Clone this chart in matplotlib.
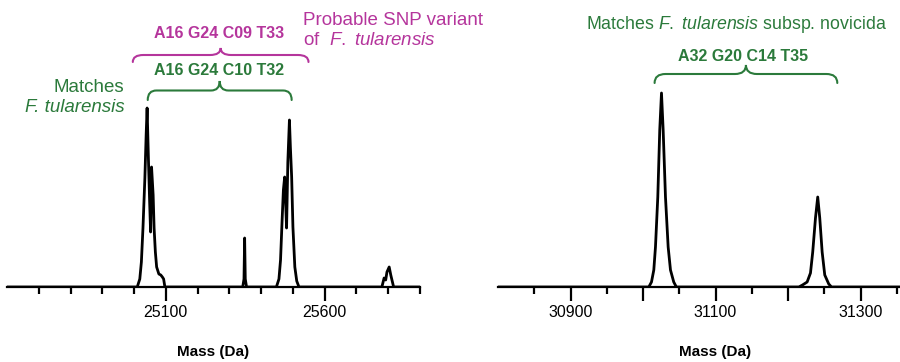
import numpy as np
import matplotlib
matplotlib.use("Agg")
import matplotlib.pyplot as plt
from matplotlib.path import Path
from matplotlib.patches import PathPatch
from matplotlib.ticker import FixedLocator, FuncFormatter

plt.rcParams["font.family"] = ["Liberation Sans", "DejaVu Sans"]
plt.rcParams["mathtext.fontset"] = "custom"
plt.rcParams["mathtext.rm"] = "Liberation Sans"
plt.rcParams["mathtext.it"] = "Liberation Sans:italic"
plt.rcParams["mathtext.bf"] = "Liberation Sans:bold"

# trace (mass in Da, intensity arb.)
left_mass = [24600, 25010, 25018, 25023, 25028, 25034, 25038, 25041, 25045, 25049, 25052,
             25055, 25060, 25063, 25067, 25071, 25078, 25084, 25089, 25093, 25097,
             25342, 25346, 25348, 25350, 25354,
             25448, 25456, 25461, 25466, 25470, 25474, 25477, 25480, 25484, 25489, 25492,
             25496, 25500, 25506, 25512, 25519,
             25780, 25787, 25792, 25796, 25803, 25808, 25817, 25900]
left_int = [0, 0, 8, 25, 59, 109, 152, 179, 130, 85, 55,
            120, 92, 59, 35, 20, 13, 12, 10, 8, 0,
            0, 8, 49, 8, 0,
            0, 8, 27, 67, 97, 110, 85, 59, 125, 167, 140,
            110, 60, 20, 6, 0,
            0, 9, 7, 15, 20, 12, 0, 0]

# trace
right_mass = [30800, 31008.0, 31011.7, 31014.9, 31017.2, 31020.4, 31023.1, 31025.5, 31027.8,
              31031.0, 31034.7, 31037.9, 31042.4, 31046.0, 31215.0, 31220.0, 31226.4,
              31231.0, 31234.1, 31237.9, 31241.0, 31243.8, 31247.1, 31250.7, 31256.2,
              31260.0, 31400]
right_int = [0, 0, 5, 17, 40, 90, 157, 194, 157,
             90, 40, 17, 5, 0, 0, 2, 5,
             14, 35, 69, 90, 69, 35, 12, 3,
             0, 0]

left_major = [25100, 25600]
right_major = [30900, 31000, 31100, 31200, 31300]
right_labels = [30900, 31100, 31300]

green = "#2b7a3b"
magenta = "#b5359c"


def brace(ax, x0, x1, y0, y1, color):
    xc = (x0 + x1) / 2
    ym = y0 + 0.5 * (y1 - y0)
    r = 0.06 * (x1 - x0)
    verts = [(x0, y0), (x0, ym), (x0 + r, ym),
             (xc - r, ym),
             (xc, ym), (xc, y1),
             (xc, ym), (xc + r, ym),
             (x1 - r, ym),
             (x1, ym), (x1, y0)]
    codes = [Path.MOVETO, Path.CURVE3, Path.CURVE3,
             Path.LINETO,
             Path.CURVE3, Path.CURVE3,
             Path.CURVE3, Path.CURVE3,
             Path.LINETO,
             Path.CURVE3, Path.CURVE3]
    ax.add_patch(PathPatch(Path(verts, codes), fill=False, edgecolor=color,
                           lw=1.5, clip_on=False, capstyle="round"))


def style(ax, xlim, major, minor):
    ax.set_xlim(*xlim)
    ax.set_ylim(0, 200)
    for s in ["left", "right", "top"]:
        ax.spines[s].set_visible(False)
    ax.spines["bottom"].set_linewidth(1.6)
    ax.set_yticks([])
    ax.xaxis.set_major_locator(FixedLocator(major))
    ax.xaxis.set_minor_locator(FixedLocator(minor))
    ax.tick_params(axis="x", which="major", direction="out", length=10, width=1.6,
                   labelsize=11.5, pad=3)
    ax.tick_params(axis="x", which="minor", direction="out", length=5, width=1.6)
    ax.set_xlabel("Mass (Da)", fontsize=11, fontweight="bold", labelpad=18)
    ax.patch.set_visible(False)


fig = plt.figure(figsize=(9, 3.62), dpi=100)
ax1 = fig.add_axes([7 / 900, 75 / 362, 413 / 900, 200 / 362])
ax2 = fig.add_axes([498 / 900, 75 / 362, 435 / 900, 200 / 362])

ax1.plot(left_mass, left_int, color="black", lw=2, solid_joinstyle="round")
style(ax1, (24600, 25900), left_major,
      [m for m in np.arange(24700, 25901, 100) if m not in left_major])

ax2.plot(right_mass, right_int, color="black", lw=2, solid_joinstyle="round")
style(ax2, (30800, 31400), right_major, np.arange(30850, 31351, 100))
ax2.xaxis.set_major_formatter(
    FuncFormatter(lambda v, p: f"{v:.0f}" if round(v) in right_labels else ""))

# left annotations
ax1.text(24970, 195, "Matches", color=green, fontsize=13.5, ha="right", va="baseline")
ax1.text(24970, 175, "F. tularensis", color=green, fontsize=13.5, style="italic",
         ha="right", va="baseline")
ax1.text(25533, 262, "Probable SNP variant", color=magenta, fontsize=13.5,
         va="baseline")
ax1.text(25533, 242, r"of  $\it{F.}$ $\it{tularensis}$", color=magenta,
         fontsize=13.5, va="baseline")
ax1.text(25266, 249, "A16 G24 C09 T33", color=magenta, fontsize=11.5,
         fontweight="bold", ha="center", va="baseline")
brace(ax1, 24996, 25549, 225, 239, magenta)
ax1.text(25266, 212, "A16 G24 C10 T32", color=green, fontsize=11.5,
         fontweight="bold", ha="center", va="baseline")
brace(ax1, 25043, 25496, 187, 206, green)

# right annotations
ax2.text(30922, 258, r"Matches $\it{F.}$ $\it{tularensis}$ subsp. novicida",
         color=green, fontsize=12.8, va="baseline")
ax2.text(31138, 226, "A32 G20 C14 T35", color=green, fontsize=11.5,
         fontweight="bold", ha="center", va="baseline")
brace(ax2, 31016, 31268, 204, 222, green)

fig.savefig("out.png", dpi=100)
